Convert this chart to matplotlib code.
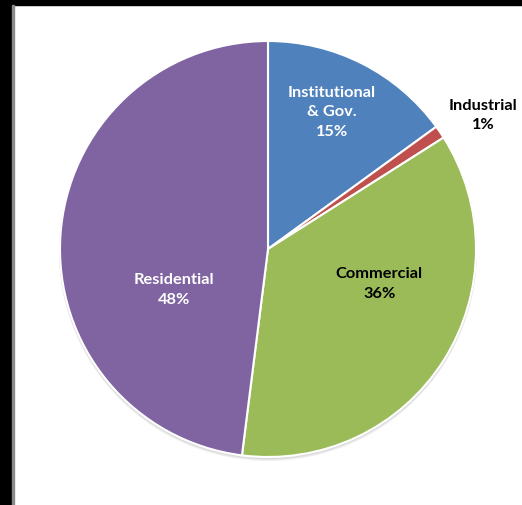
import numpy as np
import matplotlib.pyplot as plt
from matplotlib.patches import Rectangle, Circle

sectors = ['Institutional\n& Gov.', 'Industrial', 'Commercial', 'Residential']
shares = [15, 1, 36, 48]
colors = ['#4F81BD', '#C0504D', '#9BBB59', '#8064A2']
text_colors = ['white', 'black', 'black', 'white']
# label position as (radius fraction, angle clockwise from 12 o'clock)
label_pos = [(0.73, 25), (1.22, 58), (0.56, 107), (0.49, 247)]

W, H = 522, 506
cx, cy, R = 268, H - 250, 208

plt.rcParams['font.family'] = ['Lato', 'DejaVu Sans']

fig = plt.figure(figsize=(W / 100, H / 100), dpi=100)
ax = fig.add_axes([0, 0, 1, 1])

# soft shadow under the pie
for i, a in enumerate([0.05, 0.05, 0.05]):
    ax.add_patch(Circle((cx, cy - 1 - i), R + 1, color='k', alpha=a, lw=0, zorder=0))

wedges, _ = ax.pie(shares, colors=colors, startangle=90, counterclock=False,
                   center=(cx, cy), radius=R, frame=True,
                   wedgeprops=dict(edgecolor='white', linewidth=1.5))
ax.set_xlim(0, W)
ax.set_ylim(0, H)
ax.axis('off')

for name, v, tc, (f, ang) in zip(sectors, shares, text_colors, label_pos):
    t = np.deg2rad(ang)
    x = cx + f * R * np.sin(t)
    y = cy + f * R * np.cos(t)
    ax.text(x, y, f'{name}\n{v}%', ha='center', va='center', color=tc,
            fontsize=11.8, fontweight='bold', linespacing=1.5)

# dark frame edges
fig.patches.append(Rectangle((0, 1 - 6 / H), 1, 6 / H, transform=fig.transFigure,
                             color='black', zorder=5))
fig.patches.append(Rectangle((0, 0), 12 / W, 1, transform=fig.transFigure,
                             color='black', zorder=5))
fig.patches.append(Rectangle((12 / W, 0), 1.5 / W, 1 - 6 / H, transform=fig.transFigure,
                             color='#8a8a8a', zorder=5))

fig.savefig('out.png', dpi=100)
